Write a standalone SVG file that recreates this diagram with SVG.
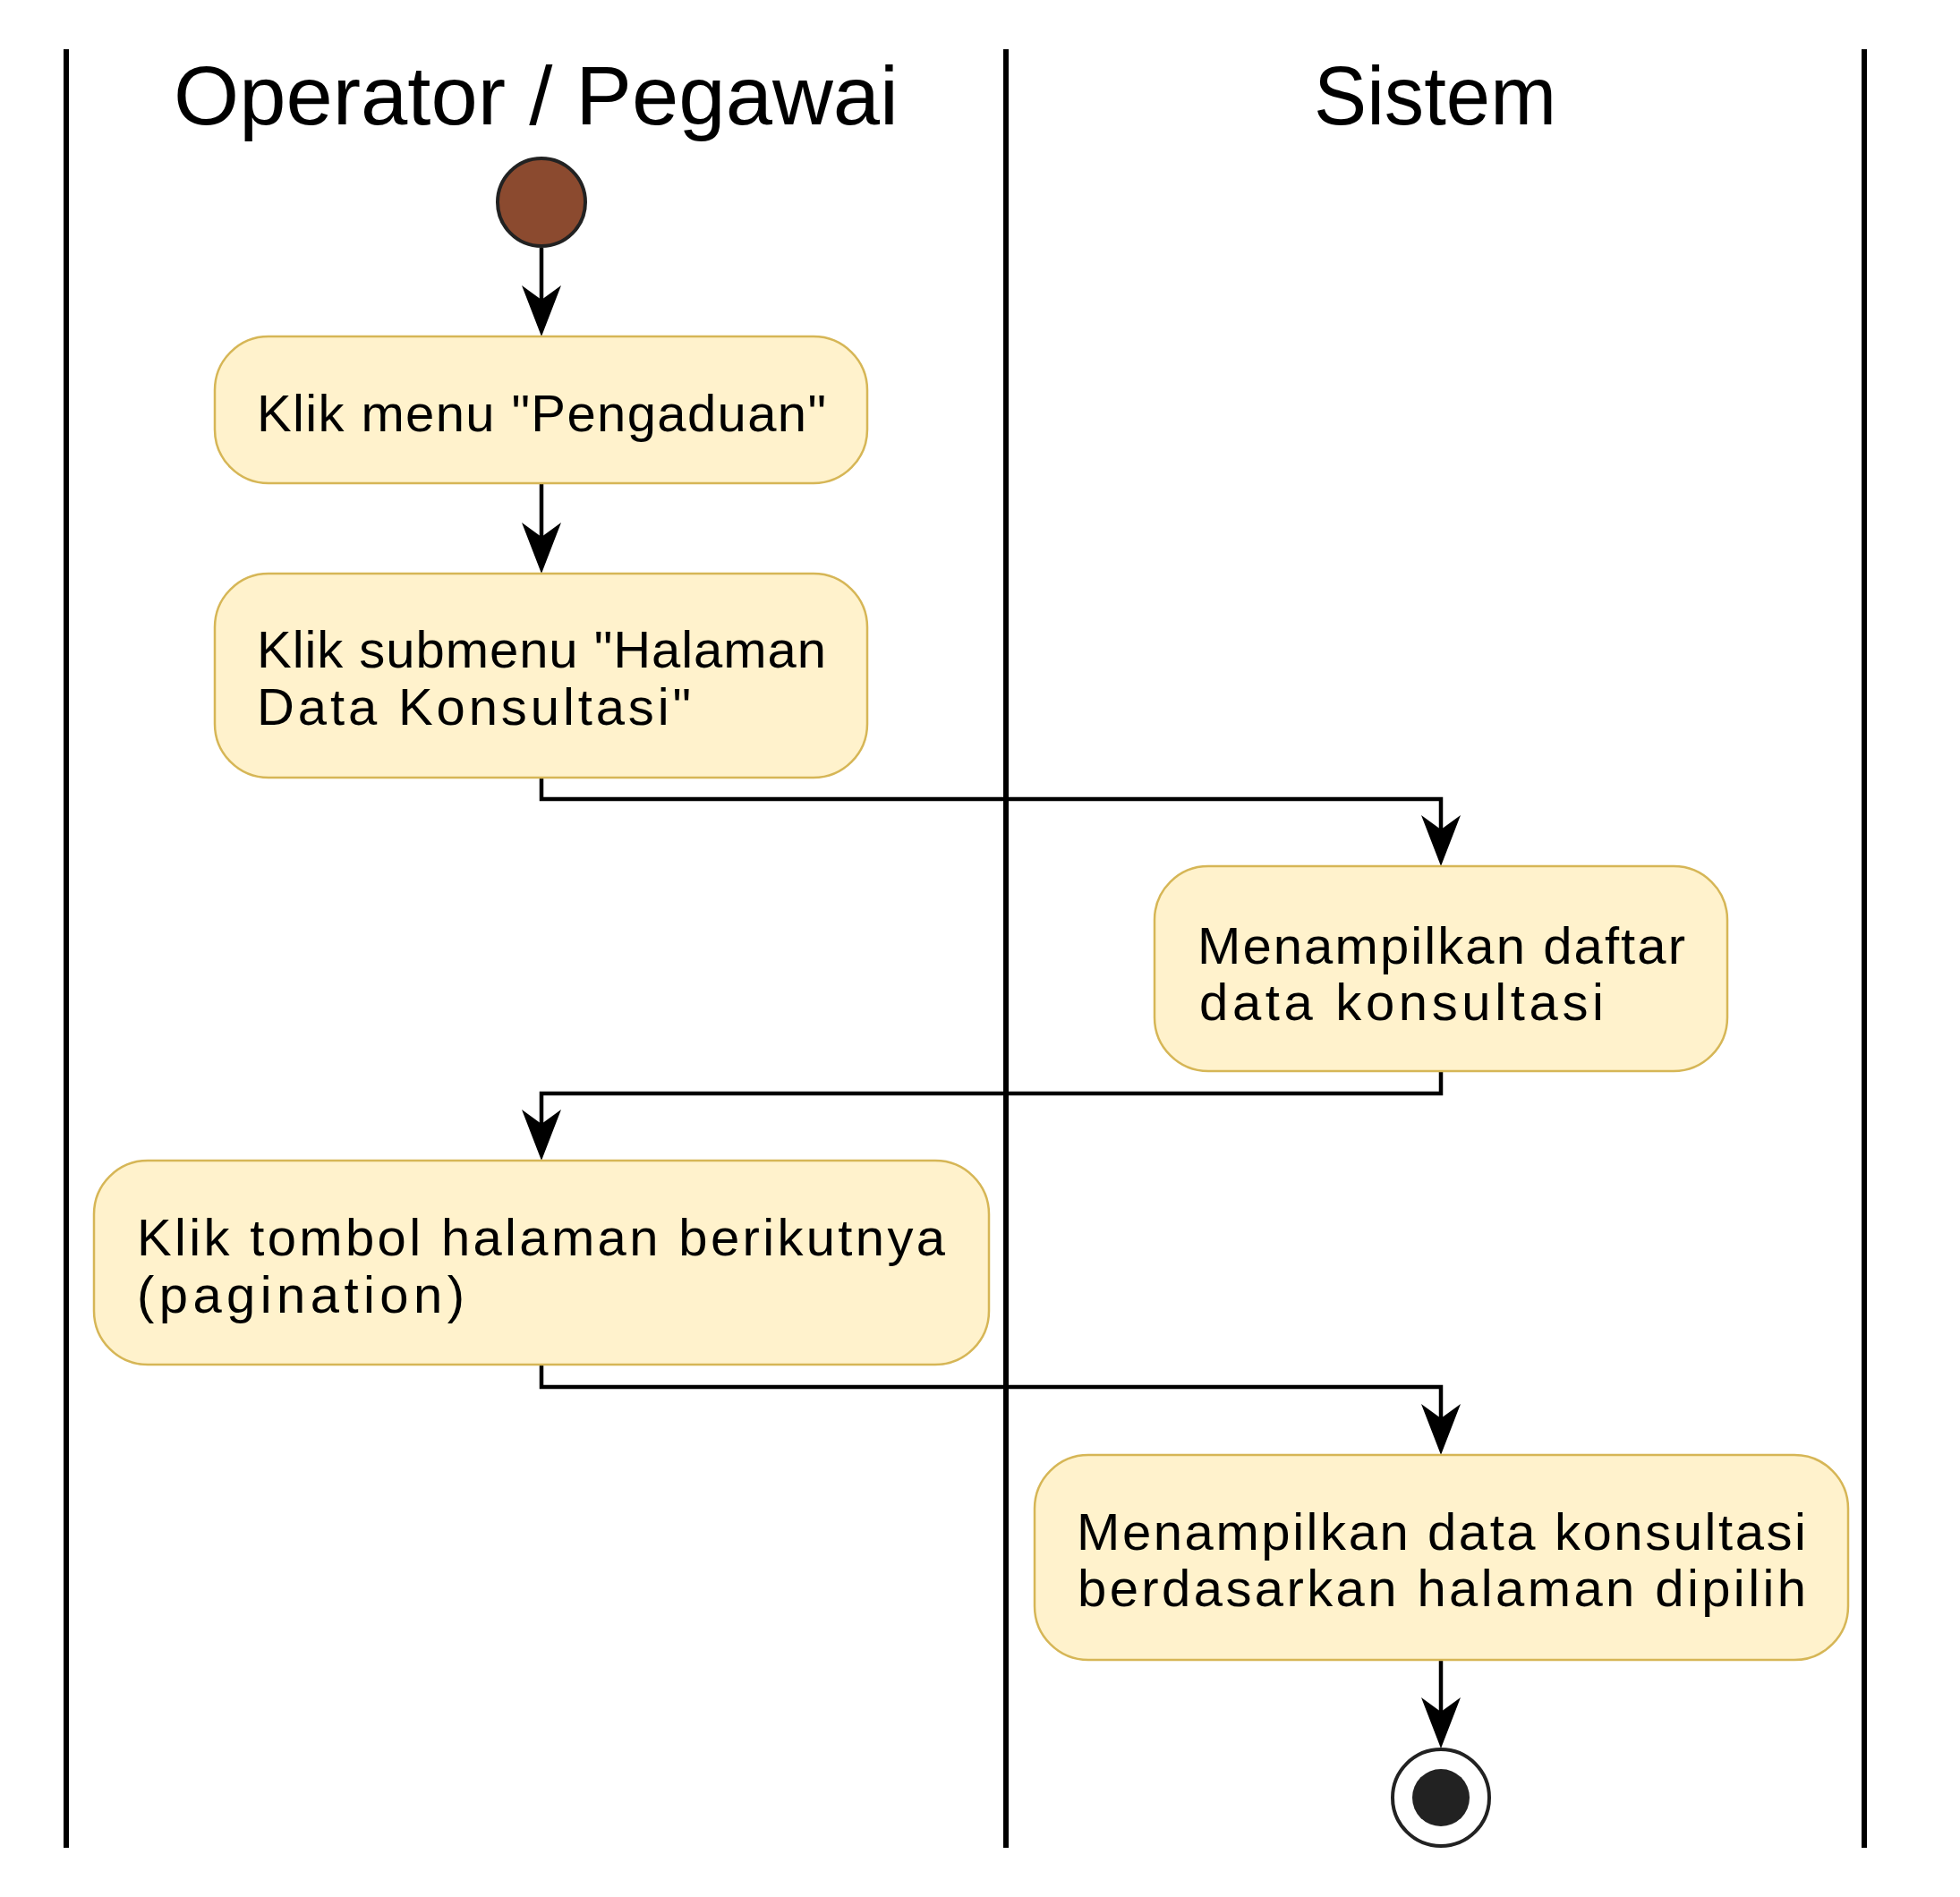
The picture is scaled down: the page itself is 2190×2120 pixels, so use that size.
<svg xmlns="http://www.w3.org/2000/svg" width="2190" height="2120" viewBox="0 0 2190 2120">
<style>
.lane{stroke:#000;stroke-width:6;fill:none}
.title{font-family:"Liberation Sans",Arial,sans-serif;font-size:93px;fill:#000}
.box{fill:#FFF2CC;stroke:#D6B656;stroke-width:2.5}
.lbl{font-family:"Liberation Sans",Arial,sans-serif;font-size:58px;fill:#000}
.edge{stroke:#000;stroke-width:4.5;fill:none;marker-end:url(#ah)}
</style>
<defs>
<marker id="ah" markerUnits="userSpaceOnUse" viewBox="-18 -23 60 46" refX="0" refY="0" markerWidth="60" markerHeight="46" orient="auto">
<path d="M41,0 L-16,-22 L0,0 L-16,22 Z" fill="#000"/>
</marker>
</defs>
<rect width="2190" height="2120" fill="#fff"/>
<g id="lanes">
<line class="lane" x1="74" y1="55" x2="74" y2="2065"/>
<line class="lane" x1="1124" y1="55" x2="1124" y2="2065"/>
<line class="lane" x1="2083" y1="55" x2="2083" y2="2065"/>
<text class="title" x="194" y="139" textLength="810" lengthAdjust="spacingAndGlyphs">Operator / Pegawai</text>
<text class="title" x="1468" y="139" textLength="271" lengthAdjust="spacingAndGlyphs">Sistem</text>
</g>
<g id="connectors">
<path class="edge" d="M605,277 V335"/>
<path class="edge" d="M605,540 V600"/>
<path class="edge" d="M605,869 V893 H1610 V927"/>
<path class="edge" d="M1610,1197 V1222 H605 V1256"/>
<path class="edge" d="M605,1525 V1550 H1610 V1585"/>
<path class="edge" d="M1610,1855 V1913"/>
</g>
<g id="start">
<circle cx="605" cy="226" r="49" fill="#8B4A2F" stroke="#222" stroke-width="4"/>
</g>
<g id="n1">
<rect class="box" x="240" y="376" width="729" height="164" rx="60"/>
<text class="lbl" x="287" y="482" textLength="636" lengthAdjust="spacing">Klik menu "Pengaduan"</text>
</g>
<g id="n2">
<rect class="box" x="240" y="641" width="729" height="228" rx="60"/>
<text class="lbl" x="287" y="746" textLength="636" lengthAdjust="spacing">Klik submenu "Halaman</text>
<text class="lbl" x="287" y="810" textLength="485" lengthAdjust="spacing">Data Konsultasi"</text>
</g>
<g id="n3">
<rect class="box" x="1290" y="968" width="640" height="229" rx="60"/>
<text class="lbl" x="1338" y="1077" textLength="545" lengthAdjust="spacing">Menampilkan daftar</text>
<text class="lbl" x="1340" y="1140" textLength="452" lengthAdjust="spacing">data konsultasi</text>
</g>
<g id="n4">
<rect class="box" x="105" y="1297" width="1000" height="228" rx="60"/>
<text class="lbl" x="153" y="1403" textLength="903" lengthAdjust="spacing">Klik tombol halaman berikutnya</text>
<text class="lbl" x="153" y="1467" textLength="366" lengthAdjust="spacing">(pagination)</text>
</g>
<g id="n5">
<rect class="box" x="1156" y="1626" width="909" height="229" rx="60"/>
<text class="lbl" x="1203" y="1732" textLength="815" lengthAdjust="spacing">Menampilkan data konsultasi</text>
<text class="lbl" x="1204" y="1795" textLength="814" lengthAdjust="spacing">berdasarkan halaman dipilih</text>
</g>
<g id="end">
<circle cx="1610" cy="2009" r="54" fill="#fff" stroke="#222" stroke-width="4"/>
<circle cx="1610" cy="2009" r="32" fill="#222"/>
</g>
</svg>
